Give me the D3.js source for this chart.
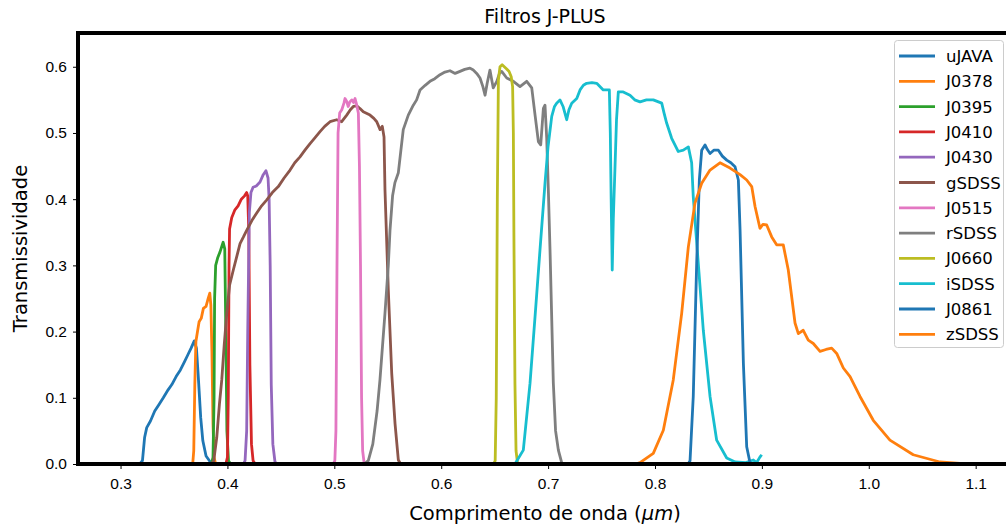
<!DOCTYPE html>
<html>
<head>
<meta charset="utf-8">
<script src="https://cdn.jsdelivr.net/npm/d3@7"></script>
<style>
  body { margin: 0; background: #fff; }
  svg { font-family: "DejaVu Sans", sans-serif; display: block; }
  .tick text { font-size: 15.5px; fill: #000; }
</style>
</head>
<body>
<div id="svg"></div>
<script>
// J-PLUS filter curves, [wavelength (um), transmission]
let uJAVA = [[0.318,0],[0.3205,0.005],[0.3225,0.04],[0.3245,0.055],[0.328,0.065],[0.332,0.08],[0.336,0.09],[0.340,0.10],[0.3445,0.112],[0.348,0.12],[0.352,0.132],[0.356,0.142],[0.360,0.155],[0.363,0.165],[0.366,0.175],[0.369,0.186],[0.371,0.175],[0.3728,0.13],[0.375,0.07],[0.377,0.035],[0.380,0.012],[0.384,0.003],[0.388,0]];
let J0378 = [[0.3675,0],[0.3685,0.02],[0.3695,0.12],[0.3705,0.185],[0.372,0.2],[0.3735,0.215],[0.3755,0.22],[0.3775,0.235],[0.380,0.238],[0.382,0.25],[0.3835,0.258],[0.3845,0.24],[0.3855,0.17],[0.3865,0.06],[0.3875,0.01],[0.389,0]];
let J0395 = [[0.385,0],[0.3865,0.01],[0.3875,0.1],[0.388,0.25],[0.389,0.3],[0.391,0.312],[0.393,0.32],[0.395,0.33],[0.396,0.335],[0.3975,0.325],[0.3985,0.2],[0.3995,0.05],[0.401,0.005],[0.403,0]];
let J0410 = [[0.3985,0],[0.400,0.01],[0.4008,0.1],[0.4015,0.3],[0.402,0.355],[0.404,0.372],[0.407,0.384],[0.410,0.39],[0.413,0.4],[0.416,0.405],[0.418,0.41],[0.419,0.405],[0.420,0.35],[0.421,0.15],[0.4225,0.03],[0.424,0.005],[0.426,0]];
let J0430 = [[0.415,0],[0.4165,0.005],[0.418,0.05],[0.419,0.2],[0.4205,0.38],[0.422,0.41],[0.424,0.418],[0.427,0.42],[0.4305,0.426],[0.4335,0.437],[0.436,0.443],[0.438,0.432],[0.439,0.4],[0.440,0.3],[0.441,0.12],[0.4425,0.03],[0.4445,0.003],[0.447,0]];
let gSDSS = [[0.385,0],[0.3872,0.005],[0.390,0.04],[0.3925,0.09],[0.3947,0.127],[0.397,0.18],[0.3994,0.228],[0.402,0.27],[0.4055,0.293],[0.409,0.315],[0.4118,0.333],[0.415,0.343],[0.418,0.353],[0.423,0.368],[0.4274,0.379],[0.432,0.39],[0.4368,0.399],[0.442,0.41],[0.4476,0.419],[0.453,0.432],[0.4586,0.444],[0.463,0.455],[0.4679,0.464],[0.4725,0.474],[0.4773,0.484],[0.482,0.493],[0.4866,0.502],[0.491,0.51],[0.496,0.517],[0.5022,0.52],[0.5069,0.517],[0.5116,0.527],[0.515,0.535],[0.5178,0.54],[0.521,0.541],[0.524,0.537],[0.5271,0.532],[0.5334,0.527],[0.537,0.522],[0.5397,0.517],[0.5428,0.505],[0.5449,0.51],[0.5465,0.494],[0.5474,0.414],[0.5505,0.263],[0.5537,0.137],[0.5568,0.061],[0.5599,0.006],[0.562,0]];
let J0515 = [[0.499,0],[0.5005,0.005],[0.5015,0.05],[0.5025,0.3],[0.5035,0.5],[0.505,0.53],[0.507,0.535],[0.509,0.545],[0.510,0.552],[0.5115,0.548],[0.513,0.54],[0.5145,0.547],[0.5163,0.55],[0.518,0.546],[0.5194,0.552],[0.521,0.542],[0.5225,0.53],[0.5235,0.45],[0.5245,0.3],[0.5255,0.1],[0.5265,0.02],[0.528,0]];
let rSDSS = [[0.528,0],[0.5318,0.005],[0.536,0.03],[0.540,0.08],[0.5427,0.127],[0.5474,0.228],[0.5505,0.3],[0.5521,0.353],[0.5545,0.405],[0.5567,0.425],[0.5599,0.44],[0.562,0.47],[0.5645,0.505],[0.5692,0.527],[0.5739,0.542],[0.577,0.55],[0.5802,0.565],[0.585,0.572],[0.5895,0.578],[0.594,0.582],[0.5989,0.588],[0.6035,0.592],[0.6082,0.594],[0.613,0.59],[0.6176,0.593],[0.622,0.596],[0.6269,0.598],[0.630,0.595],[0.6332,0.59],[0.6363,0.583],[0.639,0.57],[0.641,0.557],[0.643,0.575],[0.6456,0.595],[0.6475,0.578],[0.6487,0.568],[0.652,0.578],[0.6545,0.59],[0.6566,0.593],[0.6613,0.583],[0.6675,0.578],[0.6737,0.57],[0.680,0.578],[0.6847,0.568],[0.6878,0.527],[0.6909,0.487],[0.6931,0.482],[0.6956,0.537],[0.6971,0.542],[0.6987,0.492],[0.7003,0.41],[0.7018,0.323],[0.7049,0.122],[0.707,0.05],[0.7096,0.021],[0.7127,0.002],[0.715,0]];
let J0660 = [[0.649,0],[0.6505,0.005],[0.6515,0.1],[0.6525,0.4],[0.6535,0.58],[0.655,0.6],[0.657,0.603],[0.659,0.6],[0.661,0.597],[0.6635,0.593],[0.6655,0.585],[0.6668,0.57],[0.6675,0.5],[0.668,0.35],[0.669,0.12],[0.670,0.02],[0.6715,0]];
let iSDSS = [[0.669,0],[0.6768,0.021],[0.6831,0.122],[0.6878,0.223],[0.6924,0.323],[0.6971,0.424],[0.700,0.48],[0.7034,0.525],[0.706,0.54],[0.708,0.545],[0.7111,0.55],[0.714,0.54],[0.7174,0.52],[0.7195,0.535],[0.7221,0.545],[0.7268,0.552],[0.7299,0.565],[0.733,0.572],[0.7361,0.575],[0.741,0.576],[0.7455,0.575],[0.7516,0.565],[0.7573,0.565],[0.7582,0.5],[0.759,0.4],[0.760,0.293],[0.761,0.37],[0.7626,0.449],[0.764,0.52],[0.7657,0.562],[0.7703,0.562],[0.7766,0.557],[0.781,0.55],[0.786,0.547],[0.792,0.55],[0.7984,0.55],[0.8063,0.545],[0.8085,0.53],[0.8109,0.515],[0.8156,0.492],[0.8218,0.472],[0.8265,0.474],[0.8312,0.479],[0.8343,0.455],[0.8358,0.404],[0.8405,0.303],[0.8452,0.202],[0.8515,0.102],[0.8577,0.036],[0.8671,0.009],[0.875,0.003],[0.885,0.002],[0.892,0.006],[0.895,0.002],[0.898,0.01],[0.8998,0.014]];
let J0861 = [[0.831,0],[0.8328,0.005],[0.8358,0.102],[0.839,0.303],[0.8415,0.429],[0.8437,0.474],[0.8468,0.482],[0.849,0.475],[0.8515,0.469],[0.855,0.474],[0.8593,0.474],[0.863,0.465],[0.8671,0.459],[0.871,0.455],[0.8749,0.449],[0.878,0.429],[0.8796,0.353],[0.8827,0.152],[0.8858,0.026],[0.8889,0.002],[0.891,0]];
let zSDSS = [[0.782,0],[0.786,0.002],[0.7984,0.016],[0.8078,0.051],[0.8171,0.127],[0.825,0.228],[0.8312,0.328],[0.8374,0.394],[0.8437,0.424],[0.8515,0.444],[0.8608,0.455],[0.8702,0.447],[0.8796,0.437],[0.8858,0.429],[0.8905,0.419],[0.8936,0.389],[0.8982,0.356],[0.901,0.362],[0.9045,0.361],[0.9092,0.343],[0.9138,0.331],[0.920,0.331],[0.9247,0.293],[0.931,0.213],[0.9341,0.197],[0.9387,0.202],[0.9434,0.187],[0.9481,0.182],[0.9544,0.17],[0.960,0.173],[0.9653,0.175],[0.970,0.167],[0.9762,0.145],[0.9825,0.132],[0.9918,0.102],[1.0042,0.066],[1.0198,0.036],[1.0416,0.014],[1.0666,0.003],[1.0853,0.001],[1.10,0]];

let names = ["uJAVA", "J0378", "J0395", "J0410", "J0430", "gSDSS", "J0515", "rSDSS", "J0660", "iSDSS", "J0861", "zSDSS"];
let curves = [uJAVA, J0378, J0395, J0410, J0430, gSDSS, J0515, rSDSS, J0660, iSDSS, J0861, zSDSS];
let colors = ["#1f77b4", "#ff7f0e", "#2ca02c", "#d62728", "#9467bd", "#8c564b",
              "#e377c2", "#7f7f7f", "#bcbd22", "#17becf", "#1f77b4", "#ff7f0e"];
let xTicks = [0.3, 0.4, 0.5, 0.6, 0.7, 0.8, 0.9, 1.0, 1.1];
let yTicks = [0.0, 0.1, 0.2, 0.3, 0.4, 0.5, 0.6];

function makeGraph() {
  let w = 1006, h = 530;
  let left = 78, right = 1012, top = 33, bottom = 464;

  let svg = d3.select("#svg")
              .append("svg")
              .attr("width", w)
              .attr("height", h);

  let x = d3.scaleLinear().domain([0.2602, 1.134]).range([left, right]);
  let y = d3.scaleLinear().domain([0, 0.651]).range([bottom, top]);

  svg.append("clipPath").attr("id", "clip")
     .append("rect")
     .attr("x", left).attr("y", top)
     .attr("width", right - left).attr("height", bottom - top);

  let line = d3.line()
               .x(d => x(d[0]))
               .y(d => y(d[1]));

  svg.append("g")
     .attr("clip-path", "url(#clip)")
     .selectAll("path")
     .data(curves)
     .enter()
     .append("path")
     .attr("d", line)
     .attr("fill", "none")
     .attr("stroke", (d, i) => colors[i])
     .attr("stroke-width", 2.8)
     .attr("stroke-linejoin", "round");

  // axes
  let xAxis = svg.append("g")
     .attr("transform", `translate(0,${bottom})`)
     .call(d3.axisBottom(x).tickValues(xTicks).tickFormat(d3.format(".1f")).tickSize(5).tickPadding(9));
  let yAxis = svg.append("g")
     .attr("transform", `translate(${left},0)`)
     .call(d3.axisLeft(y).tickValues(yTicks).tickFormat(d3.format(".1f")).tickSize(5).tickPadding(6));
  [xAxis, yAxis].forEach(a => {
    a.select(".domain").remove();
    a.selectAll(".tick line").attr("stroke", "#000").attr("stroke-width", 1);
  });

  // thick frame
  svg.append("rect")
     .attr("x", left).attr("y", top)
     .attr("width", right - left).attr("height", bottom - top)
     .attr("fill", "none")
     .attr("stroke", "#000")
     .attr("stroke-width", 4);

  // legend
  let lg = svg.append("g");
  lg.append("rect")
    .attr("x", 894.5).attr("y", 40.5)
    .attr("width", 109).attr("height", 307)
    .attr("rx", 3)
    .attr("fill", "#fff").attr("fill-opacity", 0.8)
    .attr("stroke", "#ccc");
  let rows = lg.selectAll("g.row")
    .data(names)
    .enter()
    .append("g")
    .attr("transform", (d, i) => `translate(0,${56 + i * 25.3})`);
  rows.append("line")
    .attr("x1", 899).attr("x2", 935)
    .attr("stroke", (d, i) => colors[i])
    .attr("stroke-width", 2.8);
  rows.append("text")
    .attr("x", 946).attr("y", 6)
    .attr("font-size", 16.5)
    .text(d => d);

  svg.append("text")
     .attr("x", (left + right) / 2)
     .attr("y", 23)
     .attr("text-anchor", "middle")
     .attr("font-size", 19)
     .text("Filtros J-PLUS");

  let xl = svg.append("text")
     .attr("x", (left + right) / 2)
     .attr("y", 520)
     .attr("text-anchor", "middle")
     .attr("font-size", 19.5);
  xl.append("tspan").text("Comprimento de onda (");
  xl.append("tspan").attr("font-style", "italic").text("μm");
  xl.append("tspan").text(")");

  svg.append("text")
     .attr("transform", `translate(27,${(top + bottom) / 2}) rotate(-90)`)
     .attr("text-anchor", "middle")
     .attr("font-size", 19.5)
     .text("Transmissividade");
}

window.onload = function() {
  makeGraph();
};
</script>
</body>
</html>
